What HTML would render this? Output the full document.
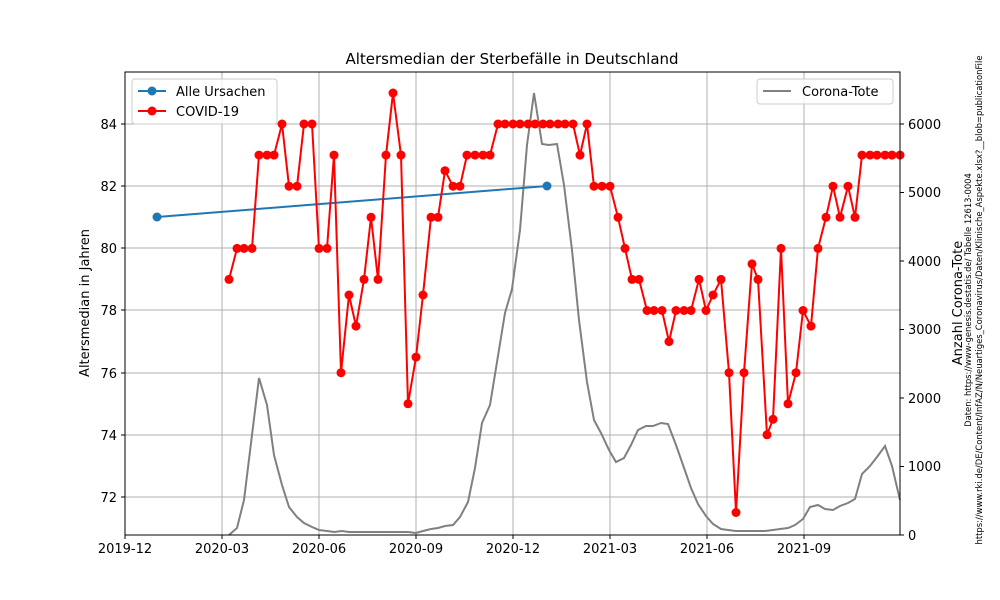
<!DOCTYPE html>
<html><head><meta charset="utf-8"><style>body{margin:0;background:#fff}svg{display:block;font-family:"DejaVu Sans","Liberation Sans",sans-serif}</style></head><body>
<svg width="1000" height="600" viewBox="0 0 1000 600" xmlns="http://www.w3.org/2000/svg">
<rect width="1000" height="600" fill="#fff"/>
<g stroke="#b0b0b0" stroke-width="1">
<line x1="125" y1="72" x2="125" y2="535"/><line x1="222" y1="72" x2="222" y2="535"/><line x1="319" y1="72" x2="319" y2="535"/><line x1="416" y1="72" x2="416" y2="535"/><line x1="513" y1="72" x2="513" y2="535"/><line x1="610" y1="72" x2="610" y2="535"/><line x1="707" y1="72" x2="707" y2="535"/><line x1="804" y1="72" x2="804" y2="535"/>
<line x1="125" y1="124" x2="900" y2="124"/><line x1="125" y1="186" x2="900" y2="186"/><line x1="125" y1="248" x2="900" y2="248"/><line x1="125" y1="310" x2="900" y2="310"/><line x1="125" y1="373" x2="900" y2="373"/><line x1="125" y1="435" x2="900" y2="435"/><line x1="125" y1="497" x2="900" y2="497"/>
</g>
<polyline fill="none" stroke="#808080" stroke-width="2" points="229,535 237,528 244,500 252,435 259,378 267,405 274,455 282,485 289,507 297,517 304,523 312,527 319,530 327,531 334,532 342,531 349,532 408,532 416,533 423,531 431,529 438,528 445,526 453,525 460,517 468,502 475,468 482,423 490,405 497,362 505,313 512,289 520,230 527,145 534,93 542,144 549,145 557,144 564,185 572,250 579,320 587,382 594,420 601,433 609,450 616,462 624,458 631,445 638,430 646,426 653,426 661,423 668,424 676,445 683,465 691,488 698,504 706,516 713,524 721,529 728,530 736,531 765,531 773,530 780,529 788,528 795,525 803,519 810,507 818,505 825,509 833,510 840,506 848,503 855,499 862,474 870,466 877,457 885,446 892,466 900,500"/>
<polyline fill="none" stroke="#1f77b4" stroke-width="2" points="157,217 547,186"/>
<circle cx="157" cy="217" r="4.5" fill="#1f77b4"/><circle cx="547" cy="186" r="4.5" fill="#1f77b4"/>
<g id="red"></g>
<rect x="125" y="72" width="775" height="463" fill="none" stroke="#000" stroke-width="1"/>
<g stroke="#000" stroke-width="1">
<line x1="125" y1="535" x2="125" y2="539"/><line x1="222" y1="535" x2="222" y2="539"/><line x1="319" y1="535" x2="319" y2="539"/><line x1="416" y1="535" x2="416" y2="539"/><line x1="513" y1="535" x2="513" y2="539"/><line x1="610" y1="535" x2="610" y2="539"/><line x1="707" y1="535" x2="707" y2="539"/><line x1="804" y1="535" x2="804" y2="539"/>
<line x1="121" y1="124" x2="125" y2="124"/><line x1="121" y1="186" x2="125" y2="186"/><line x1="121" y1="248" x2="125" y2="248"/><line x1="121" y1="310" x2="125" y2="310"/><line x1="121" y1="373" x2="125" y2="373"/><line x1="121" y1="435" x2="125" y2="435"/><line x1="121" y1="497" x2="125" y2="497"/>
<line x1="900" y1="535" x2="904" y2="535"/><line x1="900" y1="466.5" x2="904" y2="466.5"/><line x1="900" y1="398" x2="904" y2="398"/><line x1="900" y1="329.5" x2="904" y2="329.5"/><line x1="900" y1="261" x2="904" y2="261"/><line x1="900" y1="192.5" x2="904" y2="192.5"/><line x1="900" y1="124" x2="904" y2="124"/>
</g>
<g font-size="13" fill="#000" text-anchor="middle">
<text x="125" y="553">2019-12</text><text x="222" y="553">2020-03</text><text x="319" y="553">2020-06</text><text x="416" y="553">2020-09</text><text x="513" y="553">2020-12</text><text x="610" y="553">2021-03</text><text x="707" y="553">2021-06</text><text x="804" y="553">2021-09</text>
</g>
<g font-size="13" fill="#000" text-anchor="end">
<text x="117" y="129">84</text><text x="117" y="191">82</text><text x="117" y="253">80</text><text x="117" y="315">78</text><text x="117" y="378">76</text><text x="117" y="440">74</text><text x="117" y="502">72</text>
</g>
<g font-size="13" fill="#000">
<text x="908" y="540">0</text><text x="908" y="471">1000</text><text x="908" y="403">2000</text><text x="908" y="334">3000</text><text x="908" y="266">4000</text><text x="908" y="197">5000</text><text x="908" y="129">6000</text>
</g>
<text x="512" y="64" font-size="15" text-anchor="middle">Altersmedian der Sterbefälle in Deutschland</text>
<text transform="translate(89,303) rotate(-90)" font-size="13" text-anchor="middle">Altersmedian in Jahren</text>
<text transform="translate(962,303) rotate(-90)" font-size="13" text-anchor="middle">Anzahl Corona-Tote</text>
<text transform="translate(971,300) rotate(-90)" font-size="8.4" text-anchor="middle">Daten: https://www-genesis.destatis.de/ Tabelle 12613-0004</text>
<text transform="translate(982,300) rotate(-90)" font-size="8.4" text-anchor="middle" textLength="489" lengthAdjust="spacingAndGlyphs">https://www.rki.de/DE/Content/InfAZ/N/Neuartiges_Coronavirus/Daten/Klinische_Aspekte.xlsx?__blob=publicationFile</text>
<rect x="132" y="79" width="145" height="45" rx="3" fill="#fff" fill-opacity="0.8" stroke="#ccc"/>
<line x1="138" y1="91" x2="166" y2="91" stroke="#1f77b4" stroke-width="2"/><circle cx="152" cy="91" r="4.5" fill="#1f77b4"/>
<text x="176" y="96" font-size="13">Alle Ursachen</text>
<line x1="138" y1="111" x2="166" y2="111" stroke="#f00" stroke-width="2"/><circle cx="152" cy="111" r="4.5" fill="#f00"/>
<text x="176" y="116" font-size="13">COVID-19</text>
<rect x="757" y="79" width="136" height="25" rx="3" fill="#fff" fill-opacity="0.8" stroke="#ccc"/>
<line x1="763" y1="91" x2="791" y2="91" stroke="#808080" stroke-width="2"/>
<text x="802" y="96" font-size="13">Corona-Tote</text>
</svg>
<script>
var d=[[229,79],[237,80],[244,80],[252,80],[259,83],[267,83],[274,83],[282,84],[289,82],[297,82],[304,84],[312,84],[319,80],[327,80],[334,83],[341,76],[349,78.5],[356,77.5],[364,79],[371,81],[378,79],[386,83],[393,85],[401,83],[408,75],[416,76.5],[423,78.5],[431,81],[438,81],[445,82.5],[453,82],[460,82],[467,83],[475,83],[483,83],[490,83],[498,84],[505,84],[513,84],[520,84],[528,84],[535,84],[543,84],[550,84],[558,84],[565,84],[573,84],[580,83],[587,84],[594,82],[602,82],[610,82],[618,81],[625,80],[632,79],[639,79],[647,78],[654,78],[662,78],[669,77],[676,78],[684,78],[691,78],[699,79],[706,78],[713,78.5],[721,79],[729,76],[736,71.5],[744,76],[752,79.5],[758,79],[767,74],[773,74.5],[781,80],[788,75],[796,76],[803,78],[811,77.5],[818,80],[826,81],[833,82],[840,81],[848,82],[855,81],[862,83],[870,83],[877,83],[885,83],[892,83],[900,83]];
function y(v){return 497-(v-72)*31.08;}
var g=document.getElementById('red'),ns='http://www.w3.org/2000/svg';
var p=document.createElementNS(ns,'polyline');
p.setAttribute('points',d.map(function(a){return a[0]+','+y(a[1]).toFixed(1)}).join(' '));
p.setAttribute('fill','none');p.setAttribute('stroke','#f00');p.setAttribute('stroke-width','2');g.appendChild(p);
d.forEach(function(a){var c=document.createElementNS(ns,'circle');c.setAttribute('cx',a[0]);c.setAttribute('cy',y(a[1]).toFixed(1));c.setAttribute('r','4.5');c.setAttribute('fill','#f00');g.appendChild(c);});
</script>
</body></html>
